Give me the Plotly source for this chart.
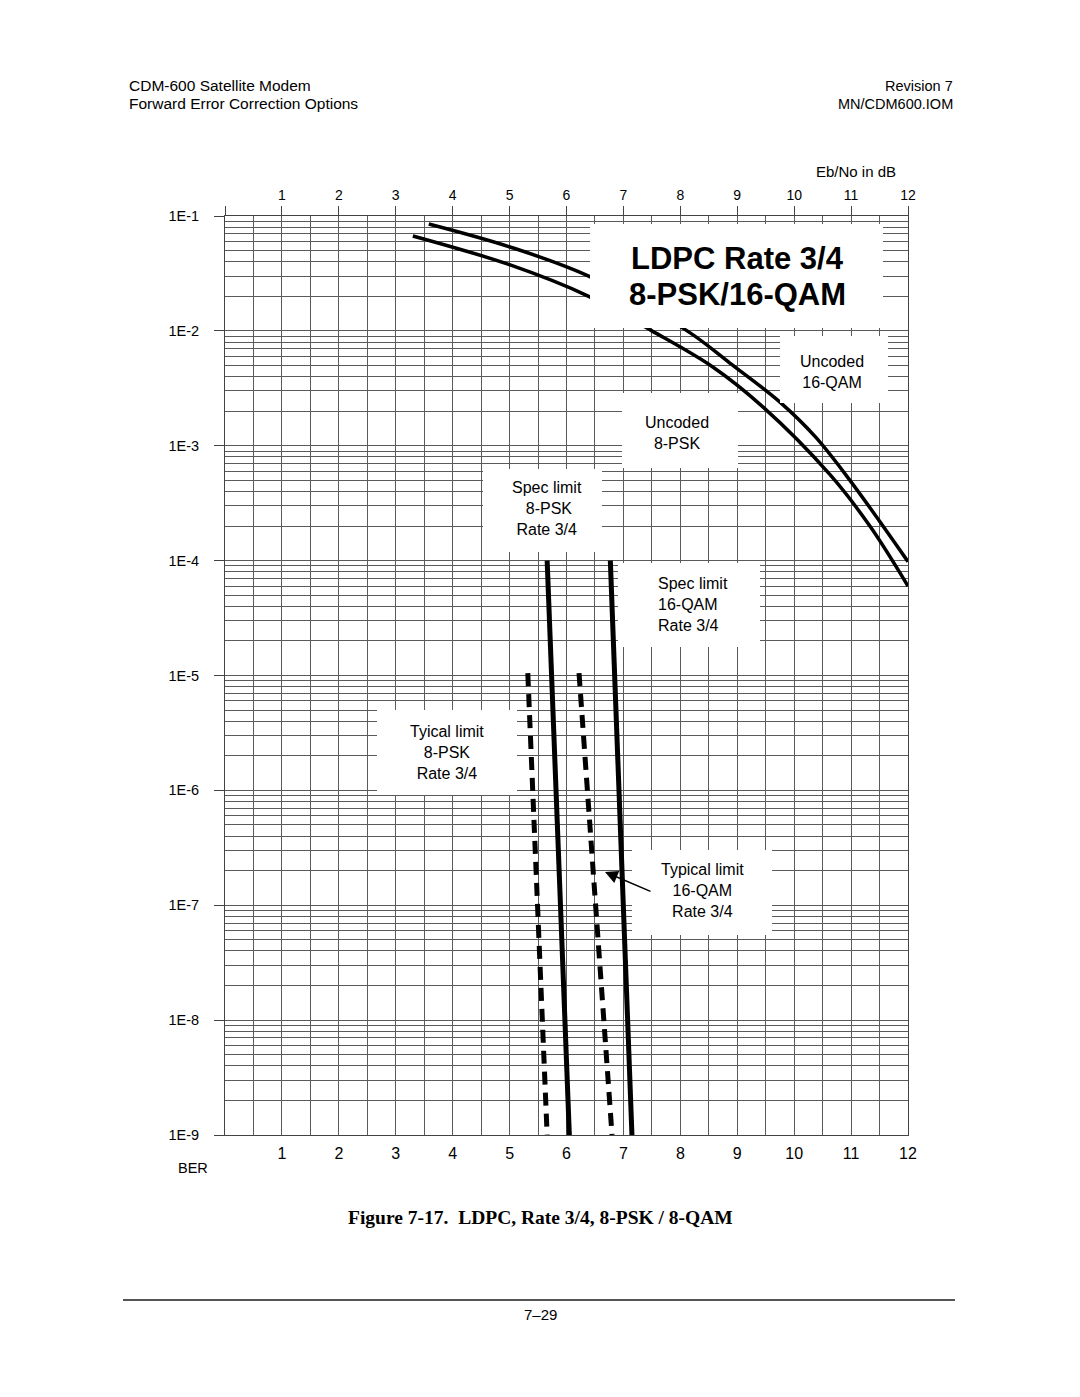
import plotly.graph_objects as go

# ---------------- data ----------------
ebno_unc16 = [3.58, 5.01, 6.38, 8.12, 8.87, 9.75, 10.37, 10.98, 12.0]
ber_unc16 = [0.0852, 0.0537, 0.0301, 0.0100, 5.25e-3, 2.40e-3, 1.20e-3, 5.0e-4, 9.8e-5]

ebno_unc8 = [3.30, 5.01, 6.38, 7.50, 8.57, 9.45, 10.63, 11.33, 12.0]
ber_unc8 = [0.067, 0.0375, 0.0201, 0.0100, 4.85e-3, 2.18e-3, 5.6e-4, 2.0e-4, 6.0e-5]

ebno_spec8 = [5.66, 6.05]
ber_spec8 = [1e-4, 1e-9]
ebno_spec16 = [6.77, 7.15]
ber_spec16 = [1e-4, 1e-9]

ebno_typ8 = [5.32, 5.66]
ber_typ8 = [1.05e-5, 1e-9]
ebno_typ16 = [6.22, 6.80]
ber_typ16 = [1.05e-5, 1e-9]

x_ticks = list(range(1, 13))
x_ticklabels = [str(v) for v in x_ticks]
y_ticks = [1e-1, 1e-2, 1e-3, 1e-4, 1e-5, 1e-6, 1e-7, 1e-8, 1e-9]
y_ticklabels = ["1E-1", "1E-2", "1E-3", "1E-4", "1E-5", "1E-6", "1E-7", "1E-8", "1E-9"]

# ---------------- layout geometry (pixels) ----------------
W, H = 1080, 1397
L, R, T, B = 225, 908, 216, 1135
PW, PH = R - L, B - T


def px(xp):
    return (xp - L) / PW


def py(yp):
    return (B - yp) / PH


FONT = "Liberation Sans, Arial, sans-serif"
GRID = "#5a5a5a"

fig = go.Figure()

fig.add_trace(go.Scatter(x=ebno_unc16, y=ber_unc16, mode="lines",
                         line=dict(color="black", width=3.5, shape="spline", smoothing=1.0),
                         showlegend=False, hoverinfo="skip"))
fig.add_trace(go.Scatter(x=ebno_unc8, y=ber_unc8, mode="lines",
                         line=dict(color="black", width=3.5, shape="spline", smoothing=1.0),
                         showlegend=False, hoverinfo="skip"))
for xs, ys in [(ebno_spec8, ber_spec8), (ebno_spec16, ber_spec16)]:
    fig.add_trace(go.Scatter(x=xs, y=ys, mode="lines",
                             line=dict(color="black", width=5),
                             showlegend=False, hoverinfo="skip"))
for xs, ys in [(ebno_typ8, ber_typ8), (ebno_typ16, ber_typ16)]:
    fig.add_trace(go.Scatter(x=xs, y=ys, mode="lines",
                             line=dict(color="black", width=5, dash="13px,8px"),
                             showlegend=False, hoverinfo="skip"))

minor_y = [k * 10.0 ** (-n) for n in range(2, 10) for k in range(2, 10)]

fig.update_layout(
    width=W, height=H,
    margin=dict(l=L, r=W - R, t=T, b=H - B, pad=0),
    paper_bgcolor="white", plot_bgcolor="white",
    font=dict(family=FONT, color="black", size=14),
    xaxis=dict(range=[0, 12], tickmode="array", tickvals=x_ticks, ticktext=x_ticklabels,
               ticks="", tickfont=dict(size=16), ticklabelstandoff=4,
               showgrid=True, gridcolor=GRID, gridwidth=1,
               minor=dict(tickvals=[v + 0.5 for v in range(0, 12)], showgrid=True,
                          gridcolor=GRID, gridwidth=1, ticks=""),
               showline=True, linecolor="#444", linewidth=1, mirror=True,
               zeroline=False, automargin=False, fixedrange=True),
    xaxis2=dict(range=[0, 12], overlaying="x", side="top", anchor="y",
                tickmode="array", tickvals=list(range(0, 13)),
                ticktext=[""] + x_ticklabels,
                ticks="outside", ticklen=9, tickcolor="#444", tickwidth=1,
                tickfont=dict(size=14), showgrid=False, showline=False,
                zeroline=False, automargin=False),
    yaxis=dict(type="log", range=[-9, -1], tickmode="array", tickvals=y_ticks,
               ticktext=y_ticklabels, ticks="outside", ticklen=10, tickcolor="#444",
               tickfont=dict(size=14.5), ticklabelstandoff=12,
               showgrid=True, gridcolor=GRID, gridwidth=1,
               minor=dict(tickvals=minor_y, showgrid=True, gridcolor=GRID,
                          gridwidth=1, ticks=""),
               showline=True, linecolor="#444", linewidth=1, mirror=True,
               zeroline=False, automargin=False),
)

# dummy invisible trace so that the top axis is drawn
fig.add_trace(go.Scatter(x=[None], y=[None], xaxis="x2", yaxis="y",
                         showlegend=False, hoverinfo="skip"))

# white text boxes (pixel rectangles)
boxes = [
    (590, 224, 883, 328),
    (780, 336, 888, 403),
    (622, 393, 738, 468),
    (483, 469, 602, 552),
    (618, 563, 760, 647),
    (377, 710, 517, 795),
    (632, 850, 772, 935),
]
for x0, y0, x1, y1 in boxes:
    fig.add_shape(type="rect", xref="paper", yref="paper",
                  x0=px(x0), x1=px(x1), y0=py(y1), y1=py(y0),
                  fillcolor="white", line=dict(width=0), layer="above")


def text(s, x, y, size=14, xanchor="center", align="center", bold=False, family=FONT):
    if bold:
        s = "<b>" + s + "</b>"
    fig.add_annotation(text=s, xref="paper", yref="paper", x=px(x), y=py(y),
                       xanchor=xanchor, yanchor="middle", showarrow=False,
                       align=align, font=dict(size=size, family=family, color="black"))


# title in box
text("LDPC Rate 3/4", 737, 258, size=31, bold=True)
text("8-PSK/16-QAM", 737, 294, size=31, bold=True)

# box labels
text("Uncoded<br>16-QAM", 832, 372, size=16)
text("Uncoded<br>8-PSK", 677, 433, size=16)
text("Spec limit<br> 8-PSK<br>Rate 3/4", 547, 508, size=16)
text("Spec limit<br>16-QAM<br>Rate 3/4", 656, 604, size=16, xanchor="left", align="left")
text("Tyical limit<br>8-PSK<br>Rate 3/4", 447, 752, size=16)
text("Typical limit<br>16-QAM<br>Rate 3/4", 702, 890, size=16)

# arrow
fig.add_annotation(xref="paper", yref="paper", x=px(605), y=py(872),
                   ax=652 - 605, ay=892 - 872, axref="pixel", ayref="pixel",
                   text="", showarrow=True, arrowhead=2, arrowsize=1.6,
                   arrowwidth=1.6, arrowcolor="black")

# axis titles
text("Eb/No in dB", 856, 171, size=15)
text("BER", 193, 1168, size=14.5)

# page header
text("CDM-600 Satellite Modem", 127, 86, size=15.5, xanchor="left", align="left")
text("Forward Error Correction Options", 127, 104, size=15.5, xanchor="left", align="left")
text("Revision 7", 955, 86, size=14.5, xanchor="right", align="right")
text("MN/CDM600.IOM", 955, 104, size=14.5, xanchor="right", align="right")

# caption
text("Figure 7-17.  LDPC, Rate 3/4, 8-PSK / 8-QAM", 540, 1217, size=19.5, bold=True,
     family="Liberation Serif, Times New Roman, serif")

# footer
fig.add_shape(type="line", xref="paper", yref="paper",
              x0=px(123), x1=px(955), y0=py(1300), y1=py(1300),
              line=dict(color="#555", width=2))
text("7–29", 540, 1314, size=15)

fig.write_html("out.html")
